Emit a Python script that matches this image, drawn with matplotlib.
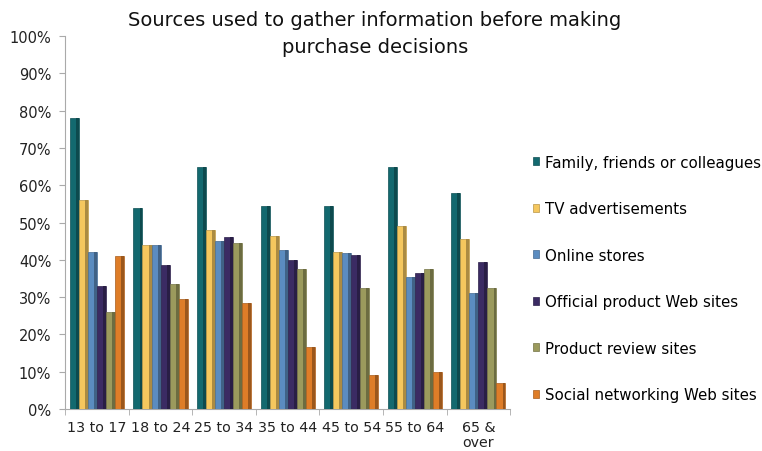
import matplotlib
matplotlib.use("Agg")
import matplotlib.pyplot as plt
import numpy as np
from matplotlib.colors import to_rgb

age_groups = ["13 to 17", "18 to 24", "25 to 34", "35 to 44", "45 to 54", "55 to 64", "65 &\nover"]
series_names = [
    "Family, friends or colleagues",
    "TV advertisements",
    "Online stores",
    "Official product Web sites",
    "Product review sites",
    "Social networking Web sites",
]
family_friends = [78, 54, 65, 54.5, 54.5, 65, 58]
tv_ads = [56, 44, 48, 46.5, 42, 49, 45.5]
online_stores = [42, 44, 45, 42.5, 41.8, 35.5, 31]
official_sites = [33, 38.5, 46, 40, 41.3, 36.5, 39.5]
review_sites = [26, 33.5, 44.5, 37.5, 32.5, 37.5, 32.5]
social_sites = [41, 29.5, 28.5, 16.5, 9, 10, 7]
y_ticks = [0, 10, 20, 30, 40, 50, 60, 70, 80, 90, 100]

series_values = [family_friends, tv_ads, online_stores, official_sites, review_sites, social_sites]
colors = ["#13696f", "#f5c75e", "#5b8cc0", "#3b2b63", "#9b9a5d", "#de7d28"]

plt.rcParams["font.family"] = ["DejaVu Sans"]

fig = plt.figure(figsize=(7.62, 4.52), dpi=100)
ax = fig.add_axes([0.0855, 0.093, 0.584, 0.825])

n = len(series_values)
x = np.arange(len(age_groups))
group_w = 0.85
bw = group_w / n


def darker(c, f=0.65):
    r, g, b = to_rgb(c)
    return (r * f, g * f, b * f)


for i, (vals, col) in enumerate(zip(series_values, colors)):
    pos = x - group_w / 2 + bw * (i + 0.5)
    ax.bar(pos, vals, width=bw, color=col, edgecolor=darker(col, 0.75),
           linewidth=0.5, label=series_names[i], zorder=3)
    # darker side face gives the columns some depth
    ax.bar(pos + bw * 0.34, vals, width=bw * 0.32, color=darker(col, 0.7),
           linewidth=0, zorder=3.1)

ax.set_xlim(-0.5, len(age_groups) - 0.5)
ax.set_ylim(0, 100)
ax.set_yticks(y_ticks)
ax.set_yticklabels([f"{v}%" for v in y_ticks], fontsize=10.5, color="#222222")
ax.set_xticks(x)
ax.set_xticklabels(age_groups, fontsize=10.3, color="#222222", linespacing=1.1, va="top")
ax.tick_params(axis="x", length=0, pad=8)
ax.tick_params(axis="y", length=4, color="#aaaaaa", direction="out", pad=6)
ax.set_xticks(np.arange(-0.5, len(age_groups), 1.0), minor=True)
ax.tick_params(axis="x", which="minor", length=4, color="#aaaaaa")

for s in ["top", "right"]:
    ax.spines[s].set_visible(False)
ax.spines["left"].set_color("#aaaaaa")
ax.spines["bottom"].set_color("#aaaaaa")

fig.text(0.492, 0.925, "Sources used to gather information before making\npurchase decisions",
         ha="center", va="center", fontsize=14, color="#111111", linespacing=1.5)

leg = ax.legend(loc="center left", bbox_to_anchor=(1.02, 0.35), frameon=False,
                fontsize=10.8, handlelength=0.45, handleheight=0.45, handletextpad=0.35,
                labelspacing=2.1)

fig.savefig("out.png", dpi=100)
